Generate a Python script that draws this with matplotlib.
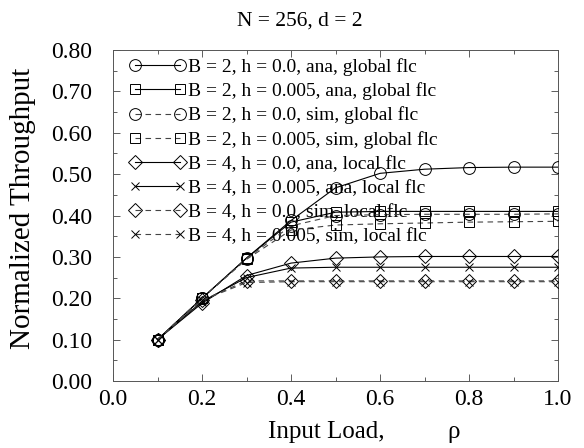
#!/usr/bin/env python3

import matplotlib
matplotlib.use('Agg')
import matplotlib.pyplot as plt
from matplotlib.ticker import MultipleLocator, FormatStrFormatter

plt.rcParams['font.family'] = ['Liberation Serif', 'DejaVu Serif']

load = [0.1, 0.2, 0.3, 0.4, 0.5, 0.6, 0.7, 0.8, 0.9, 1.0]

b2_h0_ana    = [0.100, 0.200, 0.297, 0.388, 0.467, 0.502, 0.512, 0.516, 0.517, 0.517]
b2_h005_ana  = [0.100, 0.200, 0.297, 0.384, 0.408, 0.410, 0.410, 0.410, 0.410, 0.410]
b2_h0_sim    = [0.100, 0.200, 0.296, 0.375, 0.400, 0.402, 0.403, 0.403, 0.403, 0.404]
b2_h005_sim  = [0.100, 0.200, 0.294, 0.365, 0.377, 0.380, 0.382, 0.384, 0.385, 0.386]
b4_h0_ana    = [0.100, 0.188, 0.255, 0.285, 0.297, 0.300, 0.301, 0.301, 0.301, 0.301]
b4_h005_ana  = [0.100, 0.192, 0.250, 0.273, 0.275, 0.275, 0.275, 0.275, 0.275, 0.275]
b4_h0_sim    = [0.100, 0.195, 0.242, 0.242, 0.242, 0.242, 0.242, 0.242, 0.242, 0.242]
b4_h005_sim  = [0.100, 0.195, 0.238, 0.240, 0.240, 0.240, 0.240, 0.240, 0.240, 0.240]

labels = [
    "B = 2, h = 0.0, ana, global flc",
    "B = 2, h = 0.005, ana, global flc",
    "B = 2, h = 0.0, sim, global flc",
    "B = 2, h = 0.005, sim, global flc",
    "B = 4, h = 0.0, ana, local flc",
    "B = 4, h = 0.005, ana, local flc",
    "B = 4, h = 0.0, sim, local flc",
    "B = 4, h = 0.005, sim, local flc",
]

series = [b2_h0_ana, b2_h005_ana, b2_h0_sim, b2_h005_sim,
          b4_h0_ana, b4_h005_ana, b4_h0_sim, b4_h005_sim]
markers = ['o', 's', 'o', 's', 'D', 'x', 'D', 'x']
sizes   = [8.5, 7.5, 8.5, 7.5, 7, 6, 7, 6]
styles  = ['-', '-', '--', '--', '-', '-', '--', '--']

##################################################################

fig = plt.figure(figsize=(5.84, 4.48), dpi=100)
ax = fig.add_axes([0.1935, 0.1496, 0.762, 0.7386])

for y, m, s, ls, lab in zip(series, markers, sizes, styles, labels):
    kw = dict(color='black', linewidth=0.8, linestyle=ls, marker=m,
              markersize=s, markerfacecolor='none', markeredgecolor='black',
              markeredgewidth=0.7, label=lab, zorder=6)
    if ls == '--':
        kw['dashes'] = (5, 4)
        kw['color'] = '#444444'
    ax.plot(load, y, **kw)

ax.set_xlim(0.0, 1.0)
ax.set_ylim(0.0, 0.80)
ax.xaxis.set_major_locator(MultipleLocator(0.2))
ax.xaxis.set_minor_locator(MultipleLocator(0.1))
ax.yaxis.set_major_locator(MultipleLocator(0.1))
ax.yaxis.set_minor_locator(MultipleLocator(0.05))
ax.xaxis.set_major_formatter(FormatStrFormatter('%.1f'))
ax.yaxis.set_major_formatter(FormatStrFormatter('%.2f'))
ax.tick_params(which='both', direction='in', top=True, right=True,
               labelsize=17, width=0.6, color='#444444')
ax.tick_params(which='major', length=5)
ax.tick_params(which='minor', length=3)
ax.tick_params(axis='y', pad=15)
ax.tick_params(axis='x', pad=6)
for sp in ax.spines.values():
    sp.set_linewidth(0.7)
    sp.set_color('#555555')

# axis titles placed in figure pixels
W, H = 584.0, 448.0
fig.text(268 / W, (H - 438) / H, "Input Load,", fontsize=18,
         ha='left', va='baseline')
fig.text(447 / W, (H - 438) / H, "ρ", fontsize=18, ha='left', va='baseline')
fig.text(23 / W, (H - 208) / H, "Normalized Throughput", fontsize=21,
         rotation=90, ha='center', va='center')
fig.text(300 / W, (H - 26) / H, "N = 256, d = 2", fontsize=15.5,
         ha='center', va='baseline')

leg = ax.legend(loc='upper left', frameon=False, fontsize=14, numpoints=2,
                handlelength=2.9, handletextpad=0.1, labelspacing=0.33,
                borderaxespad=0.0, bbox_to_anchor=(0.019, 1.0))
leg.set_zorder(5)

fig.savefig("out.png", dpi=100)
